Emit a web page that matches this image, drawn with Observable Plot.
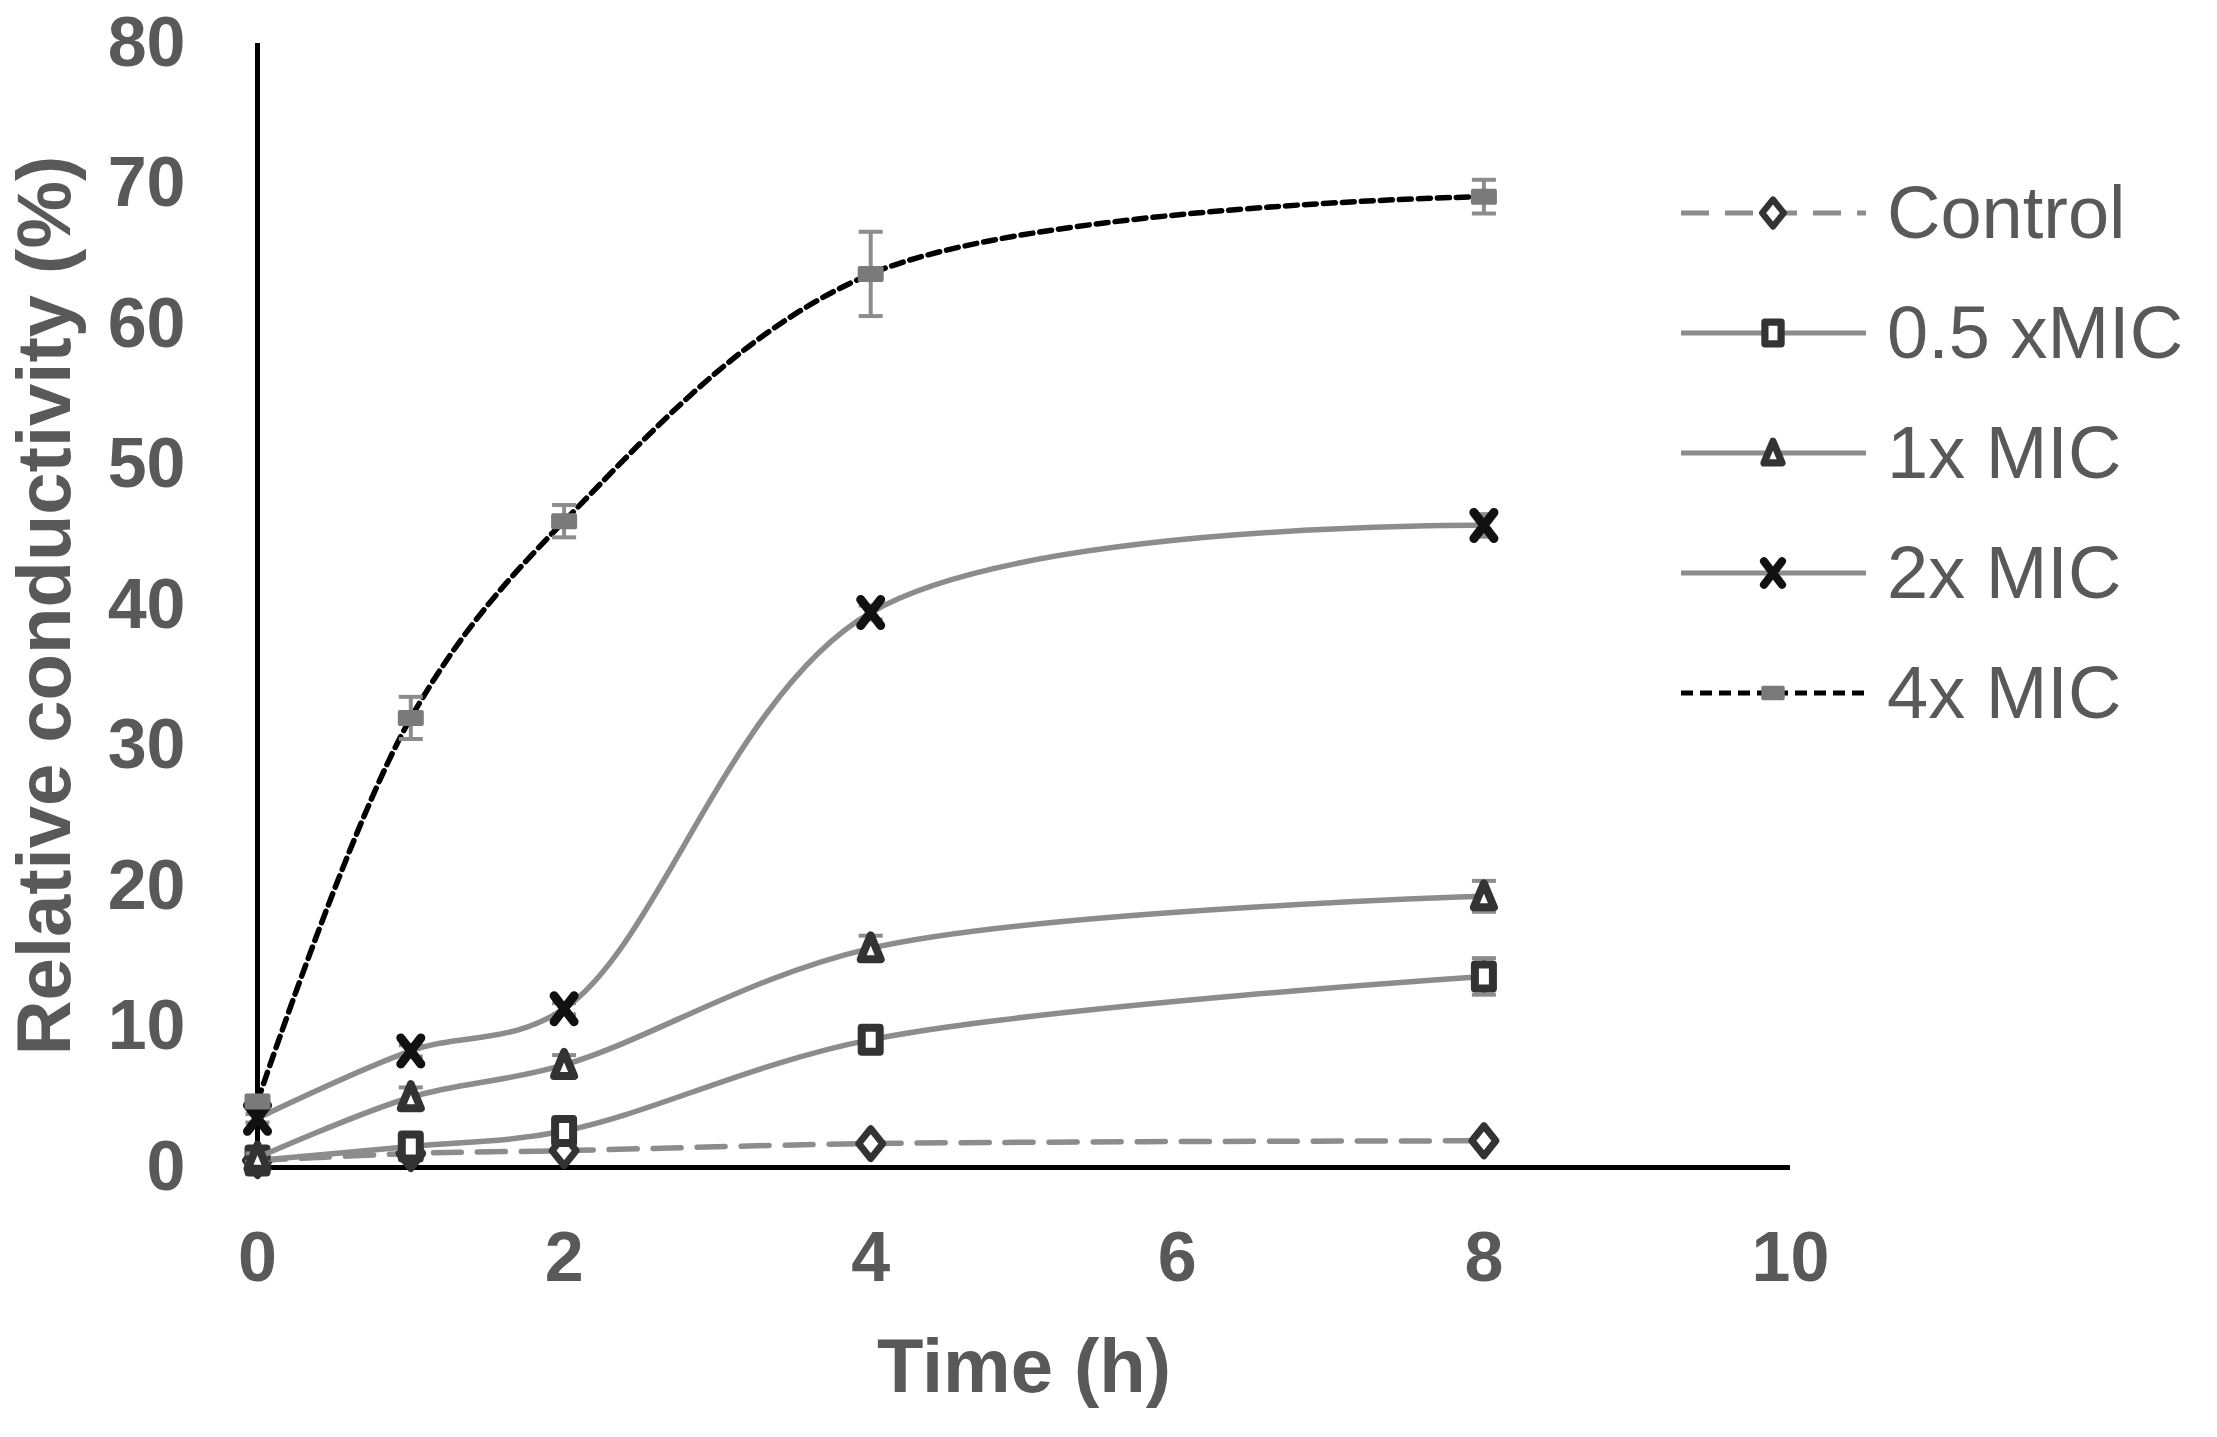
<!DOCTYPE html>
<html><head><meta charset="utf-8">
<script src="https://cdn.jsdelivr.net/npm/d3@7"></script>
<script src="https://cdn.jsdelivr.net/npm/@observablehq/plot@0.6"></script>
<style>
html,body{margin:0;padding:0;background:#fff;}
#wrap{position:relative;width:2217px;height:1437px;overflow:hidden;}
#legend{position:absolute;left:1681px;top:0;font-family:"Liberation Sans",Arial,sans-serif;color:#595959;}
.lrow{position:absolute;left:0;height:100px;display:flex;align-items:center;white-space:nowrap;}
.lrow span{font-size:74px;margin-left:21px;line-height:1;}
</style></head><body><div id="wrap"></div>
<script>
// ---- data ----
const times = [0, 1, 2, 4, 8];
const seriesNames = ["Control", "0.5 xMIC", "1x MIC", "2x MIC", "4x MIC"];
const control   = [0.5, 1.0, 1.2, 1.7, 1.9];
const controlErr= [0.2, 0.2, 0.2, 0.2, 0.2];
const mic05     = [0.5, 1.5, 2.6, 9.1, 13.6];
const mic05Err  = [0.3, 0.4, 0.5, 0.5, 1.3];
const mic1      = [0.7, 5.0, 7.3, 15.6, 19.3];
const mic1Err   = [0.3, 0.7, 0.7, 0.9, 1.1];
const mic2      = [3.5, 8.3, 11.3, 39.5, 45.7];
const mic2Err   = [0.3, 0.4, 0.4, 0.5, 0.8];
const mic4      = [4.7, 32.0, 46.0, 63.6, 69.1];
const mic4Err   = [0.4, 1.5, 1.15, 3.0, 1.2];
const xTicks = [0, 2, 4, 6, 8, 10];
const yTicks = [0, 10, 20, 30, 40, 50, 60, 70, 80];
const xTitle = "Time (h)";
const yTitle = "Relative conductivity (%)";

// ---- symbols ----
const diamondSym = {draw(c){c.moveTo(0,-15);c.lineTo(12,0);c.lineTo(0,15);c.lineTo(-12,0);c.closePath();}};
const squareSym  = {draw(c){c.moveTo(-9,-12);c.lineTo(9,-12);c.lineTo(9,12);c.lineTo(-9,12);c.closePath();}};
const triSym     = {draw(c){c.moveTo(0,-13);c.lineTo(10,11);c.lineTo(-10,11);c.closePath();}};
const xSym       = {draw(c){c.moveTo(-10,-13);c.lineTo(10,13);c.moveTo(10,-13);c.lineTo(-10,13);}};
const dashSym    = {draw(c){c.moveTo(-11,-6);c.lineTo(11,-6);c.lineTo(11,6);c.lineTo(-11,6);c.closePath();}};
const capSym     = {draw(c){c.moveTo(-12,0);c.lineTo(12,0);}};

const gray = "#8c8c8c";
const styles = [
  {vals: control, err: controlErr, line: gray,   dash: "28,16", sym: diamondSym, mstroke: "#333", mfill: "white", mw: 7},
  {vals: mic05,   err: mic05Err,   line: gray,   dash: null,    sym: squareSym,  mstroke: "#333", mfill: "white", mw: 8},
  {vals: mic1,    err: mic1Err,    line: gray,   dash: null,    sym: triSym,     mstroke: "#333", mfill: "white", mw: 8},
  {vals: mic2,    err: mic2Err,    line: gray,   dash: null,    sym: xSym,       mstroke: "#111", mfill: "none",  mw: 9},
  {vals: mic4,    err: mic4Err,    line: "#000", dash: "12,7",  sym: dashSym,    mstroke: "#7a7a7a", mfill: "#7a7a7a", mw: 4}
];

const marks = [];
marks.push(Plot.ruleY([0], {stroke: "#000", strokeWidth: 5}));
marks.push(Plot.ruleX([0], {y1: 0, y2: 80, stroke: "#000", strokeWidth: 5}));
styles.forEach((s, i) => {
  const rows = times.map((t, j) => ({t, v: s.vals[j], e: s.err[j], name: seriesNames[i]}));
  marks.push(Plot.line(rows, {x: "t", y: "v", curve: "catmull-rom", stroke: s.line, strokeWidth: 5.5, strokeDasharray: s.dash || undefined}));
  marks.push(Plot.ruleX(rows, {x: "t", y1: d => d.v - d.e, y2: d => d.v + d.e, stroke: gray, strokeWidth: 4}));
  marks.push(Plot.dot(rows, {x: "t", y: d => d.v - d.e, symbol: capSym, stroke: gray, strokeWidth: 4, fill: "none"}));
  marks.push(Plot.dot(rows, {x: "t", y: d => d.v + d.e, symbol: capSym, stroke: gray, strokeWidth: 4, fill: "none"}));
  marks.push(Plot.dot(rows, {x: "t", y: "v", symbol: s.sym, stroke: s.mstroke, fill: s.mfill, strokeWidth: s.mw, strokeLinejoin: "round", strokeLinecap: "round"}));
});
marks.push(Plot.axisY({ticks: yTicks, tickSize: 0, tickPadding: 72, fontSize: 70, fontWeight: "bold", label: null}));
marks.push(Plot.axisX({ticks: xTicks, tickSize: 0, tickPadding: 64, fontSize: 70, fontWeight: "bold", label: null}));
marks.push(Plot.text([yTitle], {frameAnchor: "left", dx: -212, rotate: -90, text: d => d, fontSize: 76, fontWeight: "bold", lineAnchor: "middle", textAnchor: "middle"}));
marks.push(Plot.text([xTitle], {frameAnchor: "bottom", dy: 200, text: d => d, fontSize: 76, fontWeight: "bold", lineAnchor: "middle", textAnchor: "middle"}));

const chart = Plot.plot({
  width: 2217, height: 1437,
  marginLeft: 257, marginRight: 427, marginTop: 43, marginBottom: 270,
  x: {domain: [0, 10]},
  y: {domain: [0, 80]},
  style: {fontFamily: "'Liberation Sans', Arial, sans-serif", color: "#595959", background: "white", overflow: "visible"},
  marks
});
const wrap = document.getElementById("wrap");
wrap.appendChild(chart);

// ---- legend ----
const legend = document.createElement("div");
legend.id = "legend";
wrap.appendChild(legend);
const rowTop0 = 163, rowStep = 120;
styles.forEach((s, i) => {
  const row = document.createElement("div");
  row.className = "lrow";
  row.style.top = (rowTop0 + i * rowStep) + "px";
  const svg = d3.create("svg").attr("width", 185).attr("height", 60);
  const g = svg.append("g");
  g.append("line").attr("x1", 0).attr("x2", 185).attr("y1", 30).attr("y2", 30)
    .attr("stroke", s.line).attr("stroke-width", 5).attr("stroke-dasharray", s.dash || null);
  const p = d3.path(); s.sym.draw(p);
  g.append("path").attr("d", p.toString()).attr("transform", "translate(92,30) scale(0.9)")
    .attr("stroke", s.mstroke).attr("fill", s.mfill).attr("stroke-width", s.mw).attr("stroke-linejoin", "round").attr("stroke-linecap", "round");
  row.appendChild(svg.node());
  const sp = document.createElement("span");
  sp.textContent = seriesNames[i];
  row.appendChild(sp);
  legend.appendChild(row);
});
</script></body></html>
